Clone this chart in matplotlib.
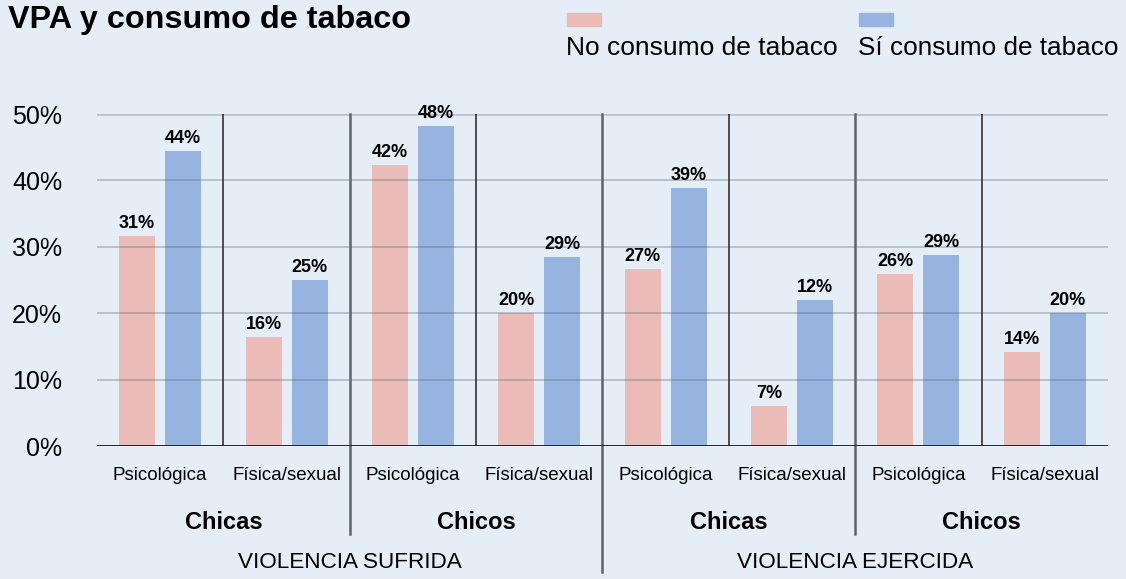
import matplotlib.pyplot as plt
from matplotlib.patches import Rectangle

plt.rcParams['font.family'] = ['Liberation Sans', 'DejaVu Sans']

# data
categories = ['Psicológica', 'Física/sexual'] * 4
groups = ['Chicas', 'Chicos', 'Chicas', 'Chicos']
sections = ['VIOLENCIA SUFRIDA', 'VIOLENCIA EJERCIDA']
no_tabaco = [31.6, 16.4, 42.3, 20.0, 26.7, 6.0, 25.9, 14.2]
si_tabaco = [44.4, 25.0, 48.2, 28.5, 38.9, 22.0, 28.8, 20.0]
no_labels = ['31%', '16%', '42%', '20%', '27%', '7%', '26%', '14%']
si_labels = ['44%', '25%', '48%', '29%', '39%', '12%', '29%', '20%']
yticks = [0, 10, 20, 30, 40, 50]

bg = '#e5edf7'
pink = '#ebbcb7'
blue = '#97b3df'

fig = plt.figure(figsize=(11.26, 5.79), dpi=100, facecolor=bg)
ax = fig.add_axes([0.0861, 0.2297, 0.8979, 0.5734])
ax.set_facecolor(bg)

x = list(range(len(categories)))
w = 0.285
ax.bar([i - 0.182 for i in x], no_tabaco, w, color=pink, zorder=2)
ax.bar([i + 0.182 for i in x], si_tabaco, w, color=blue, zorder=2)

for i in x:
    ax.text(i - 0.182, no_tabaco[i] + 0.6, no_labels[i], ha='center', va='bottom',
            fontsize=13, fontweight='bold', zorder=4)
    ax.text(i + 0.182, si_tabaco[i] + 0.6, si_labels[i], ha='center', va='bottom',
            fontsize=13, fontweight='bold', zorder=4)

# gridlines drawn over bars
for t in yticks[1:-1]:
    ax.axhline(t, color='#5c6670', alpha=0.35, lw=1.3, zorder=3)
ax.axhline(50, color='#b9c2cd', lw=2, zorder=3)
ax.axhline(0, color='#1a1a1a', lw=1.3, zorder=5)

ax.set_xlim(-0.5, 7.5)
ax.set_ylim(0, 50)
ax.set_yticks(yticks)
ax.set_yticklabels([f'{t}%' for t in yticks], fontsize=18)
ax.tick_params(axis='y', length=0, pad=25)
ax.set_xticks([])
for s in ax.spines.values():
    s.set_visible(False)

trans = ax.get_xaxis_transform()
# separators
for b in [0.5, 2.5, 4.5, 6.5]:
    ax.plot([b, b], [0, 1], transform=trans, color='#222222', lw=1.1, zorder=3)
for b, low in [(1.5, -0.265), (3.5, -0.38), (5.5, -0.265)]:
    ax.plot([b, b], [low, 1], transform=trans, color='#5f646b', lw=1.8,
            clip_on=False, zorder=3)

for i in x:
    ax.text(i, -0.09, categories[i], transform=trans, ha='center', va='center',
            fontsize=13.5)
for k, g in enumerate(groups):
    ax.text(2 * k + 0.5, -0.23, g, transform=trans, ha='center', va='center',
            fontsize=17, fontweight='bold')
for k, s in enumerate(sections):
    ax.text(4 * k + 1.5, -0.352, s, transform=trans, ha='center', va='center',
            fontsize=16.2)

# title
fig.text(8 / 1126, 1 - 28 / 579, 'VPA y consumo de tabaco', fontsize=23.3,
         fontweight='bold', ha='left', va='baseline')

# legend
fig.add_artist(Rectangle((567 / 1126, 1 - 26 / 579), 34 / 1126, 13 / 579,
                         transform=fig.transFigure, color=pink))
fig.add_artist(Rectangle((859 / 1126, 1 - 26 / 579), 34 / 1126, 13 / 579,
                         transform=fig.transFigure, color=blue))
fig.text(566 / 1126, 1 - 55 / 579, 'No consumo de tabaco', fontsize=19,
         ha='left', va='baseline')
fig.text(858 / 1126, 1 - 55 / 579, 'Sí consumo de tabaco', fontsize=18.8,
         ha='left', va='baseline')

fig.savefig('out.png', dpi=100, facecolor=bg)
